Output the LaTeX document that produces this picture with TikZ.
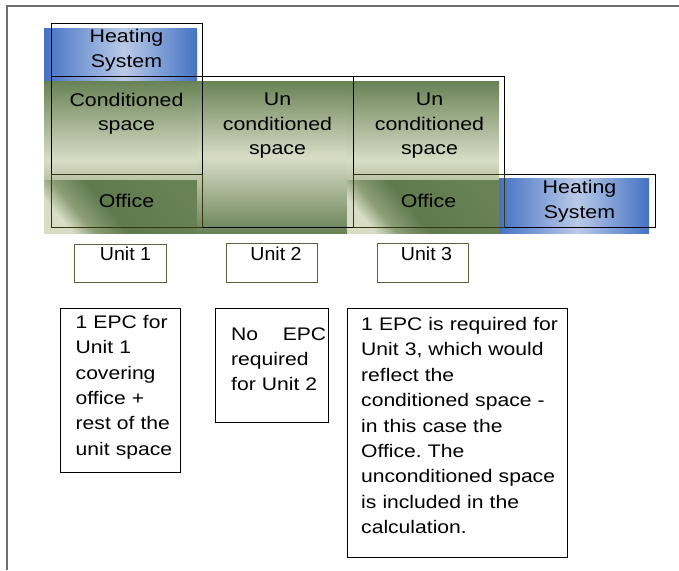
\documentclass[tikz,border=0pt]{standalone}
\usepackage{fontspec}
\setmainfont{Liberation Sans}[FakeStretch=1.16]
\newfontfamily\unitfont{Liberation Sans}[FakeStretch=1.04]
\frenchspacing
\definecolor{bdark}{RGB}{68,114,196}
\definecolor{blight}{RGB}{186,202,231}
\definecolor{gdark}{RGB}{104,130,86}
\definecolor{gdarktwo}{RGB}{96,122,78}
\definecolor{glight}{RGB}{217,221,198}
\definecolor{gbot}{RGB}{186,194,165}
\definecolor{gmid}{RGB}{140,158,118}
\definecolor{linedark}{RGB}{55,55,15}
\definecolor{framegray}{RGB}{110,110,110}
\definecolor{unitline}{RGB}{95,95,65}
\pgfdeclarehorizontalshading{hsblue}{100bp}{color(0bp)=(bdark); color(25bp)=(bdark); color(51bp)=(blight); color(75bp)=(bdark); color(100bp)=(bdark)}
\pgfdeclareverticalshading{condshade}{100bp}{color(0bp)=(gbot); color(25bp)=(gbot); color(35bp)=(glight); color(75bp)=(gdark); color(100bp)=(gdark)}
\pgfdeclareverticalshading{uncondshade}{100bp}{color(0bp)=(gdark); color(25bp)=(gdark); color(50bp)=(glight); color(75bp)=(gdark); color(100bp)=(gdark)}
\pgfdeclareverticalshading{officeshade}{100bp}{color(0bp)=(glight); color(25bp)=(glight); color(33bp)=(gmid); color(45bp)=(gdarktwo); color(75bp)=(gdark); color(100bp)=(gdark)}
\tikzset{
  fillbox/.style={shade, inner sep=0pt, outer sep=0pt, anchor=north west},
  outl/.style={draw=black, line width=0.9pt, inner sep=0pt, outer sep=0pt, anchor=north west},
  offl/.style={draw=linedark, line width=0.9pt, inner sep=0pt, outer sep=0pt, anchor=north west},
  txt/.style={font=\fontsize{18.4}{24.5}\selectfont, align=center, text width=150pt, inner sep=0pt, anchor=base},
  epcbox/.style={draw=black, line width=0.8pt, inner sep=0pt, outer sep=0pt, anchor=north west},
  epctxt/.style={font=\fontsize{18.2}{25.4}\selectfont, align=left, inner sep=0pt, anchor=base west},
  unitbox/.style={draw=unitline, line width=0.8pt, inner sep=0pt, outer sep=0pt, anchor=north west},
  unittxt/.style={font=\unitfont\fontsize{18.8}{22}\selectfont, inner sep=0pt, anchor=base},
}
\begin{document}
\begin{tikzpicture}[x=1pt,y=-1pt]
\useasboundingbox (0,0) rectangle (679,570);
% frame
\draw[framegray, line width=1.8pt] (679,6) -- (7,6) -- (7,570);
% shaded fills
\node[fillbox, shading=hsblue, minimum width=153pt, minimum height=53pt] (hsonefill) at (44,28) {};
\node[fillbox, shading=condshade, minimum width=153pt, minimum height=99pt] (condfill) at (44,81) {};
\node[fillbox, shading=officeshade, shading angle=-50, minimum width=153pt, minimum height=53pt] (offonefill) at (44,180) {};
\node[fillbox, shading=uncondshade, minimum width=150pt, minimum height=152pt] (unctwofill) at (197,81) {};
\node[fillbox, shading=condshade, minimum width=152pt, minimum height=99pt] (uncthreefill) at (347,81) {};
\node[fillbox, shading=officeshade, shading angle=-50, minimum width=152pt, minimum height=53pt] (offthreefill) at (347,180) {};
\node[fillbox, shading=hsblue, minimum width=150pt, minimum height=55pt] (hstwofill) at (499,178) {};
% outlines
\node[outl, minimum width=151pt, minimum height=53pt] (hsone) at (51,23) {};
\node[outl, minimum width=151pt, minimum height=98pt] (condone) at (51,76) {};
\node[outl, minimum width=151pt, minimum height=151pt] (unctwo) at (202,76) {};
\node[outl, minimum width=151pt, minimum height=98pt] (uncthree) at (353,76) {};
\node[outl, minimum width=151pt, minimum height=53pt] (hstwo) at (504,174) {};
\node[offl, minimum width=151pt, minimum height=53pt] (offone) at (51,174) {};
\node[offl, minimum width=151pt, minimum height=53pt] (offthree) at (353,174) {};
% texts in the building
\node[txt] (thsone) at (126.5,42.7) {Heating\\System};
\node[txt] (tcondone) at (126.5,106) {Conditioned\\space};
\node[txt] (toffone) at (126.5,207) {Office};
\node[txt] (tunctwo) at (277.5,105.7) {Un\\conditioned\\space};
\node[txt] (tuncthree) at (429.5,105.7) {Un\\conditioned\\space};
\node[txt] (toffthree) at (428.5,207) {Office};
\node[txt] (thstwo) at (579.5,193.5) {Heating\\System};
% unit boxes
\node[unitbox, minimum width=91.5pt, minimum height=38pt] (uone) at (74.5,244) {};
\node[unitbox, minimum width=91pt, minimum height=39pt] (utwo) at (226,243) {};
\node[unitbox, minimum width=91pt, minimum height=39pt] (uthree) at (377,243) {};
\node[unittxt] (tuone) at (125.5,260.7) {Unit 1};
\node[unittxt] (tutwo) at (276,260.7) {Unit 2};
\node[unittxt] (tuthree) at (426.5,260.7) {Unit 3};
% EPC boxes
\node[epcbox, minimum width=120pt, minimum height=164pt] (eone) at (60.5,308) {};
\node[epcbox, minimum width=113pt, minimum height=114pt] (etwo) at (215,308) {};
\node[epcbox, minimum width=220pt, minimum height=249pt] (ethree) at (347,308) {};
\node[epctxt, text width=100pt] (teone) at (75.5,328.3) {1 EPC for\\Unit 1\\covering\\office +\\rest of the\\unit space};
\node[epctxt, text width=95pt] (tetwo) at (231,340) {No\hfill EPC\\required\\for Unit 2};
\node[epctxt, text width=205pt] (tethree) at (361,330.5) {1 EPC is required for\\Unit 3, which would\\reflect the\\conditioned space -\\in this case the\\Office. The\\unconditioned space\\is included in the\\calculation.};
\end{tikzpicture}
\end{document}
